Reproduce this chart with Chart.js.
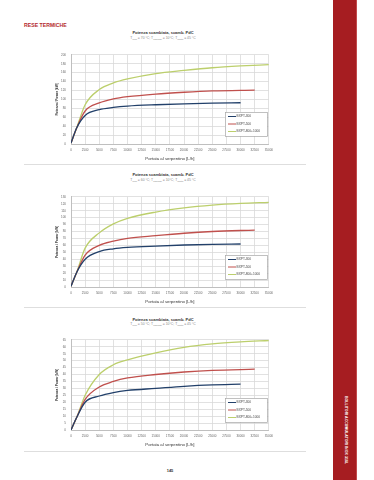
<!DOCTYPE html>
<html lang="it">
<head>
<meta charset="UTF-8">
<title>Rese termiche</title>
<script src="https://cdn.jsdelivr.net/npm/chart.js"></script>
<style>
  body { margin:0; width:374px; height:480px; position:relative; background:#fff; overflow:hidden;
         font-family:"Liberation Sans", Arial, sans-serif; }
  .header { position:absolute; left:24px; top:23px; font-size:5.2px; line-height:1; font-weight:bold; color:#b3282d; }
  .title { position:absolute; left:58px; width:210px; text-align:center; font-size:4px; line-height:1; font-weight:bold; color:#333; }
  .sub { position:absolute; left:58px; width:210px; text-align:center; font-size:3.4px; line-height:1; color:#888; }
  .sub sub { font-size:2.3px; vertical-align:-1px; }
  .box { position:absolute; left:55px; width:222px; }
  .sep { position:absolute; left:24px; width:282px; height:1px; background:#dedede; }
  .bar { position:absolute; left:333px; top:0; width:23px; height:480px; background:#a61d21; border-right:1px solid #c24a4c; }
  .side { position:absolute; left:345px; top:430px; transform:translate(-50%,-50%) rotate(90deg); white-space:nowrap;
          color:#fff; font-size:3.6px; line-height:1; font-weight:bold; }
  .page { position:absolute; left:160px; width:20px; top:469px; text-align:center; font-size:4px; line-height:1; font-weight:bold; color:#333; }
</style>
</head>
<body>
<div class="header">RESE TERMICHE</div>
<div class="bar"></div>
<div class="side">BOLLITORI ACCUMULATORI INOX 316L</div>

<div class="title" style="top:31px">Potenza scambiata, scamb. PdC</div>
<div class="sub" style="top:37px">T<sub>prim</sub> = 70 °C; T<sub>ingresso</sub> = 10°C; T<sub>uscita</sub> = 45 °C</div>
<div class="box" style="top:48px;height:113px"><canvas id="c1"></canvas></div>
<div class="sep" style="top:164px"></div>

<div class="title" style="top:173px">Potenza scambiata, scamb. PdC</div>
<div class="sub" style="top:179px">T<sub>prim</sub> = 60 °C; T<sub>ingresso</sub> = 10°C; T<sub>uscita</sub> = 45 °C</div>
<div class="box" style="top:190px;height:114px"><canvas id="c2"></canvas></div>
<div class="sep" style="top:307px"></div>

<div class="title" style="top:318px">Potenza scambiata, scamb. PdC</div>
<div class="sub" style="top:323px">T<sub>prim</sub> = 50 °C; T<sub>ingresso</sub> = 10°C; T<sub>uscita</sub> = 45 °C</div>
<div class="box" style="top:333px;height:114px"><canvas id="c3"></canvas></div>
<div class="sep" style="top:451px"></div>

<div class="page">145</div>

<script>
// series names and colours
const seriesNames = ['BXPT-300', 'BXPT-500', 'BXPT-800+1000'];
const seriesColors = ['#22406a', '#c0504d', '#bccf6c'];

// flow rates [L/h] of each curve
const flow300 = [0, 1000, 2500, 5000, 7500, 10000, 15000, 20000, 25000, 30000];
const flow500 = [0, 1000, 2500, 5000, 7500, 10000, 15000, 20000, 25000, 32500];
const flow800 = [0, 1000, 2500, 5000, 7500, 10000, 15000, 20000, 25000, 30000, 35000];

// chart 1 - power [kW]
const p1_300 = [2, 36, 64, 77, 82, 85, 88, 90, 91.5, 92.5];
const p1_500 = [2, 36, 74, 92, 101, 106, 112, 116, 119, 121];
const p1_800 = [2, 36, 88, 122, 137, 146, 158, 165, 171, 175, 178];

// chart 2
const p2_300 = [1, 21, 40, 51, 55, 57, 59, 60.5, 61.5, 62];
const p2_500 = [1, 21, 46, 60, 66, 70, 74, 77.5, 80, 82];
const p2_800 = [1, 21, 56, 78, 91, 99, 108, 114, 118, 120.5, 122];

// chart 3
const p3_300 = [0, 9, 20, 24.5, 27, 28.5, 30, 31.5, 32.5, 33];
const p3_500 = [0, 9, 22, 31, 35, 37.5, 40, 41.8, 43, 43.8];
const p3_800 = [0, 9, 25, 40, 47, 50.5, 55.5, 59.5, 62, 63.5, 64.5];

// x axis ticks
const xMin = 0, xMax = 35000, xStep = 2500;

const FONT = '"Liberation Sans", Arial, sans-serif';

// legend box drawn inside the plot, bottom right
const boxLegend = {
  id: 'boxLegend',
  afterDraw(chart) {
    const { ctx, chartArea } = chart;
    const w = 42, h = 24;
    const x = Math.round(chartArea.right - w - 2), y = Math.round(chartArea.bottom - h - 8);
    ctx.save();
    ctx.fillStyle = '#fff';
    ctx.fillRect(x, y, w, h);
    ctx.strokeStyle = '#a6a6a6';
    ctx.lineWidth = 0.7;
    ctx.strokeRect(x + 0.5, y + 0.5, w, h);
    ctx.font = '3.2px ' + FONT;
    ctx.textBaseline = 'middle';
    chart.data.datasets.forEach((ds, i) => {
      const ry = y + 4.5 + i * 7.5;
      ctx.strokeStyle = ds.borderColor;
      ctx.lineWidth = 1;
      ctx.beginPath();
      ctx.moveTo(x + 3, ry);
      ctx.lineTo(x + 11, ry);
      ctx.stroke();
      ctx.fillStyle = '#444';
      ctx.fillText(ds.label, x + 11.5, ry);
    });
    ctx.restore();
  }
};

function pts(xs, ys) {
  return xs.map((x, i) => ({ x: x, y: ys[i] }));
}

function makeChart(id, yMax, yStep, s300, s500, s800) {
  const sets = [[flow300, s300], [flow500, s500], [flow800, s800]];
  new Chart(document.getElementById(id), {
    type: 'line',
    data: {
      datasets: sets.map((s, i) => ({
        label: seriesNames[i],
        data: pts(s[0], s[1]),
        borderColor: seriesColors[i],
        borderWidth: 1.3,
        pointRadius: 0,
        cubicInterpolationMode: 'monotone',
        fill: false
      }))
    },
    options: {
      responsive: true,
      maintainAspectRatio: false,
      animation: false,
      layout: { padding: { top: 5, right: 6, bottom: 0, left: 0 } },
      plugins: { legend: { display: false }, tooltip: { enabled: false } },
      scales: {
        x: {
          type: 'linear', min: xMin, max: xMax,
          ticks: { stepSize: xStep, autoSkip: false, maxRotation: 0, padding: 4,
                   font: { size: 3, family: FONT }, color: '#666', callback: v => String(v) },
          grid: { color: '#d9d9d9', lineWidth: 0.8, drawTicks: false },
          border: { color: '#bfbfbf' },
          title: { display: true, text: 'Portata al serpentino [L/h]', color: '#333',
                   font: { size: 4.3, family: FONT }, padding: 0 },
          afterFit(s) { s.height = 17; }
        },
        y: {
          min: 0, max: yMax,
          ticks: { stepSize: yStep, padding: 5, font: { size: 3, family: FONT }, color: '#666' },
          grid: { color: '#d9d9d9', lineWidth: 0.8, drawTicks: false },
          border: { color: '#bfbfbf' },
          title: { display: true, text: 'Potenza / Power [kW]', color: '#333',
                   font: { size: 3.2, weight: 'bold', family: FONT }, padding: 0 },
          afterFit(s) { s.width = 16; }
        }
      }
    },
    plugins: [boxLegend]
  });
}

makeChart('c1', 200, 20, p1_300, p1_500, p1_800);
makeChart('c2', 130, 10, p2_300, p2_500, p2_800);
makeChart('c3', 65, 5, p3_300, p3_500, p3_800);
</script>
</body>
</html>
